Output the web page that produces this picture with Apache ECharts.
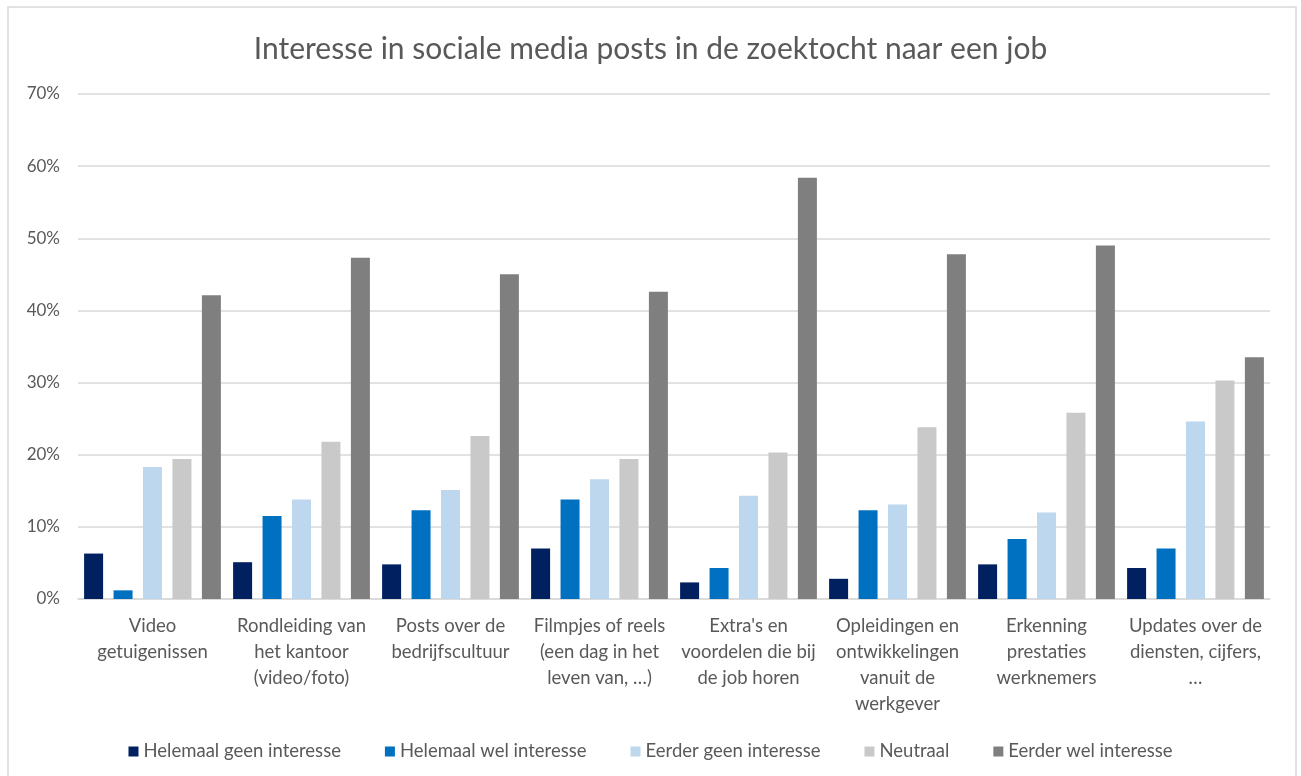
<!DOCTYPE html>
<html>
<head>
<meta charset="utf-8">
<title>Interesse in sociale media posts</title>
<script src="https://cdn.jsdelivr.net/npm/echarts@6/dist/echarts.min.js"></script>
<style>
    html, body {margin: 0; padding: 0; background: #fff;}
    #chartBox {width: 1301px; height: 776px;}
</style>
</head>
<body>
<div id="chartBox"></div>
<script>
var categories = [
    'Video\ngetuigenissen',
    'Rondleiding van\nhet kantoor\n(video/foto)',
    'Posts over de\nbedrijfscultuur',
    'Filmpjes of reels\n(een dag in het\nleven van, …)',
    "Extra's en\nvoordelen die bij\nde job horen",
    'Opleidingen en\nontwikkelingen\nvanuit de\nwerkgever',
    'Erkenning\nprestaties\nwerknemers',
    'Updates over de\ndiensten, cijfers,\n…'
];
var seriesNames = ['Helemaal geen interesse', 'Helemaal wel interesse', 'Eerder geen interesse', 'Neutraal', 'Eerder wel interesse'];
var helemaalGeen = [6.3, 5.1, 4.8, 7.0, 2.3, 2.8, 4.8, 4.3];
var helemaalWel = [1.2, 11.5, 12.3, 13.8, 4.3, 12.3, 8.3, 7.0];
var eerderGeen = [18.3, 13.8, 15.1, 16.6, 14.3, 13.1, 12.0, 24.6];
var neutraal = [19.4, 21.8, 22.6, 19.4, 20.3, 23.8, 25.8, 30.3];
var eerderWel = [42.1, 47.3, 45.0, 42.6, 58.4, 47.8, 49.0, 33.5];
var colors = ['#002060', '#0070C0', '#BDD7EE', '#C9C9C9', '#7F7F7F'];

var font = 'Lato, "Open Sans", sans-serif';
var myChart = echarts.init(document.getElementById('chartBox'));

var allData = [helemaalGeen, helemaalWel, eerderGeen, neutraal, eerderWel];
var seriesList = [];
for (var i = 0; i < allData.length; i++) {
    seriesList.push({
        name: seriesNames[i],
        type: 'bar',
        data: allData[i],
        barWidth: 19,
        barGap: '55%',
        itemStyle: {color: colors[i]}
    });
}

var option = {
    animation: false,
    color: colors,
    graphic: [{
        type: 'rect',
        shape: {x: 8, y: 7, width: 1288, height: 790},
        style: {fill: 'none', stroke: '#D9D9D9', lineWidth: 1.5},
        silent: true
    }],
    title: {
        text: 'Interesse in sociale media posts in de zoektocht naar een job',
        left: 'center',
        top: 29,
        textStyle: {fontFamily: font, fontSize: 30, fontWeight: 'normal', color: '#595959'}
    },
    legend: {
        data: seriesNames,
        left: 'center',
        top: 737,
        itemWidth: 10,
        itemHeight: 10,
        itemGap: 44,
        icon: 'rect',
        textStyle: {fontFamily: font, fontSize: 18.5, color: '#595959'}
    },
    grid: {left: 78, right: 31, top: 94, bottom: 177, containLabel: false},
    xAxis: {
        type: 'category',
        data: categories,
        axisLine: {lineStyle: {color: '#D9D9D9', width: 1.5}},
        axisTick: {show: false},
        axisLabel: {
            interval: 0,
            margin: 14,
            fontFamily: font,
            fontSize: 18.5,
            lineHeight: 26,
            color: '#595959'
        }
    },
    yAxis: {
        type: 'value',
        min: 0,
        max: 70,
        interval: 10,
        axisLine: {show: false},
        axisTick: {show: false},
        splitLine: {lineStyle: {color: '#D9D9D9', width: 1.5}},
        axisLabel: {
            formatter: '{value}%',
            margin: 18,
            fontFamily: font,
            fontSize: 17,
            color: '#595959'
        }
    },
    series: seriesList
};
myChart.setOption(option);
</script>
</body>
</html>
